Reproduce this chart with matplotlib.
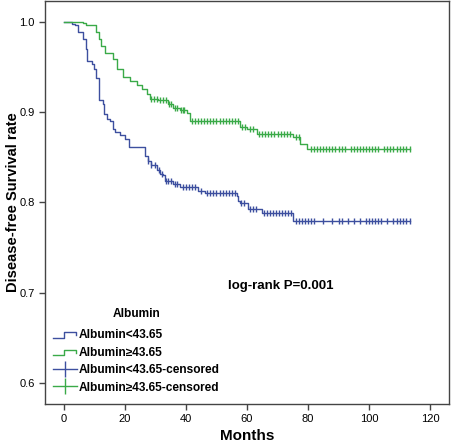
import numpy as np
import matplotlib
matplotlib.use("Agg")
from matplotlib import pyplot as plt
from matplotlib.lines import Line2D
from matplotlib.legend_handler import HandlerBase

plt.rcParams['font.family'] = ['Liberation Sans', 'DejaVu Sans']

# Kaplan-Meier step data (months, survival)
low_times = [0, 2.5, 3.6, 4.7, 6.1, 7.2, 7.6, 9.1, 9.8, 10.5, 11.6, 12.7, 13.1, 14.0,
             15.1, 16.2, 16.7, 18.4, 20.0, 21.4, 26.6, 27.5, 28.4, 30.4, 31.5, 32.6,
             33.1, 35.8, 38.0, 44.0, 46.2, 56.6, 57.0, 57.7, 60.4, 64.8, 75.1]
low_surv = [1.0, 0.998, 0.996, 0.989, 0.981, 0.970, 0.957, 0.953, 0.948, 0.938, 0.913,
            0.909, 0.898, 0.892, 0.890, 0.881, 0.878, 0.875, 0.870, 0.861, 0.852, 0.846,
            0.841, 0.836, 0.832, 0.830, 0.824, 0.821, 0.817, 0.813, 0.810, 0.807, 0.802,
            0.799, 0.793, 0.788, 0.779]
low_censored = [27.6, 28.6, 30.0, 31.0, 32.0, 33.5, 34.0, 35.0, 36.5, 37.0, 39.0, 40.0,
                41.0, 42.0, 43.0, 45.0, 47.0, 48.0, 49.0, 50.0, 51.0, 52.0, 53.0, 54.0,
                55.0, 56.0, 58.0, 59.0, 61.0, 62.0, 63.0, 65.5, 66.5, 67.5, 68.5, 69.5,
                70.5, 71.5, 72.5, 73.5, 74.5, 76.0, 77.0, 78.0, 79.0, 80.0, 81.0, 82.0,
                85.0, 88.0, 90.0, 91.0, 93.0, 95.0, 97.0, 99.0, 100.0, 101.0, 102.0,
                103.0, 104.0, 106.0, 108.0, 109.0, 110.0, 111.0, 112.0, 113.4]

high_times = [0, 6.2, 7.2, 10.5, 11.5, 12.1, 13.4, 16.1, 17.4, 19.3, 21.6, 23.9, 25.6,
              27.2, 28.2, 30.8, 34.1, 35.7, 38.0, 40.3, 41.3, 57.7, 60.0, 63.3, 75.1,
              77.4, 79.7]
high_surv = [1.0, 0.999, 0.996, 0.989, 0.981, 0.973, 0.965, 0.959, 0.948, 0.939, 0.935,
             0.930, 0.926, 0.920, 0.914, 0.913, 0.909, 0.905, 0.902, 0.899, 0.890, 0.884,
             0.881, 0.876, 0.872, 0.865, 0.859]
high_censored = [28.5, 29.5, 30.5, 31.5, 32.5, 33.5, 34.5, 35.0, 36.5, 37.0, 38.5, 39.0,
                 39.5, 42.0, 43.0, 44.0, 45.0, 46.0, 47.0, 48.0, 49.0, 50.0, 51.0, 52.0,
                 53.0, 54.0, 55.0, 56.0, 57.0, 58.5, 59.5, 61.0, 62.0, 64.0, 65.0, 66.0,
                 67.0, 68.0, 69.0, 70.0, 71.0, 72.0, 73.0, 74.0, 76.0, 77.0, 81.0, 82.0,
                 83.0, 84.0, 85.0, 86.0, 87.0, 88.0, 89.0, 90.0, 91.0, 92.0, 94.0, 95.0,
                 96.0, 97.0, 98.0, 99.0, 100.0, 101.0, 102.0, 103.0, 105.0, 106.0, 107.0,
                 108.0, 109.0, 110.0, 111.0, 112.0, 113.4]

labels = ['Albumin<43.65', 'Albumin\u226543.65',
          'Albumin<43.65-censored', 'Albumin\u226543.65-censored']
blue = '#3d4f9f'
green = '#3aaa48'


def surv_at(times, surv, t):
    idx = np.searchsorted(times, t, side='right') - 1
    return np.asarray(surv)[idx]


class StepHandler(HandlerBase):
    def create_artists(self, legend, orig_handle, xdescent, ydescent,
                       width, height, fontsize, trans):
        x = np.array([0, 0.45, 0.45, 0.95, 0.95]) * width - xdescent
        y = np.array([0.1, 0.1, 0.75, 0.75, 0.4]) * height - ydescent
        line = Line2D(x, y, color=orig_handle.get_color(), lw=1.0)
        line.set_transform(trans)
        return [line]


fig = plt.figure(figsize=(4.52, 4.46), dpi=100)
ax = fig.add_axes([45 / 452, 1 - 404 / 446, 404 / 452, 403 / 446])

for times, surv, cens, col in [(low_times, low_surv, low_censored, blue),
                               (high_times, high_surv, high_censored, green)]:
    tt = list(times) + [max(cens)]
    ss = list(surv) + [surv[-1]]
    ax.step(tt, ss, where='post', color=col, lw=1.0)
    ax.plot(cens, surv_at(times, surv, cens), linestyle='none', marker='|',
            markersize=4, markeredgewidth=1.0, color=col)

ax.text(71, 0.708, 'log-rank P=0.001', ha='center', va='center',
        fontsize=9.5, fontweight='bold')

h1 = Line2D([], [], color=blue)
h2 = Line2D([], [], color=green)
h3 = Line2D([], [], color=blue, marker='|', markersize=11, lw=1.0)
h4 = Line2D([], [], color=green, marker='|', markersize=11, lw=1.0)
leg = ax.legend([h1, h2, h3, h4], labels, loc='lower left',
                bbox_to_anchor=(0.0, 0.005), frameon=False, title='Albumin',
                handler_map={h1: StepHandler(), h2: StepHandler()},
                prop={'weight': 'bold', 'size': 8.6}, handlelength=2.0,
                handletextpad=0.1, labelspacing=0.45, borderaxespad=0.3)
leg.get_title().set_fontweight('bold')
leg.get_title().set_fontsize(8.6)
leg._legend_box.sep = 7

ax.set_xlim(-6.2, 126.2)
ax.set_ylim(0.577, 1.023)
ax.set_xticks([0, 20, 40, 60, 80, 100, 120])
ax.set_yticks([0.6, 0.7, 0.8, 0.9, 1.0])
ax.set_yticklabels(['0.6', '0.7', '0.8', '0.9', '1.0'])
ax.tick_params(labelsize=8, length=4, color='#444444', width=1.0)
for sp in ax.spines.values():
    sp.set_color('#444444')
    sp.set_linewidth(1.0)

ax.set_xlabel('Months', fontsize=11, fontweight='bold')
ax.set_ylabel('Disease-free Survival rate', fontsize=10.5, fontweight='bold')
ax.xaxis.set_label_coords(0.5, -0.062)
ax.yaxis.set_label_coords(-0.062, 0.5)

fig.savefig('out.png', dpi=100)
